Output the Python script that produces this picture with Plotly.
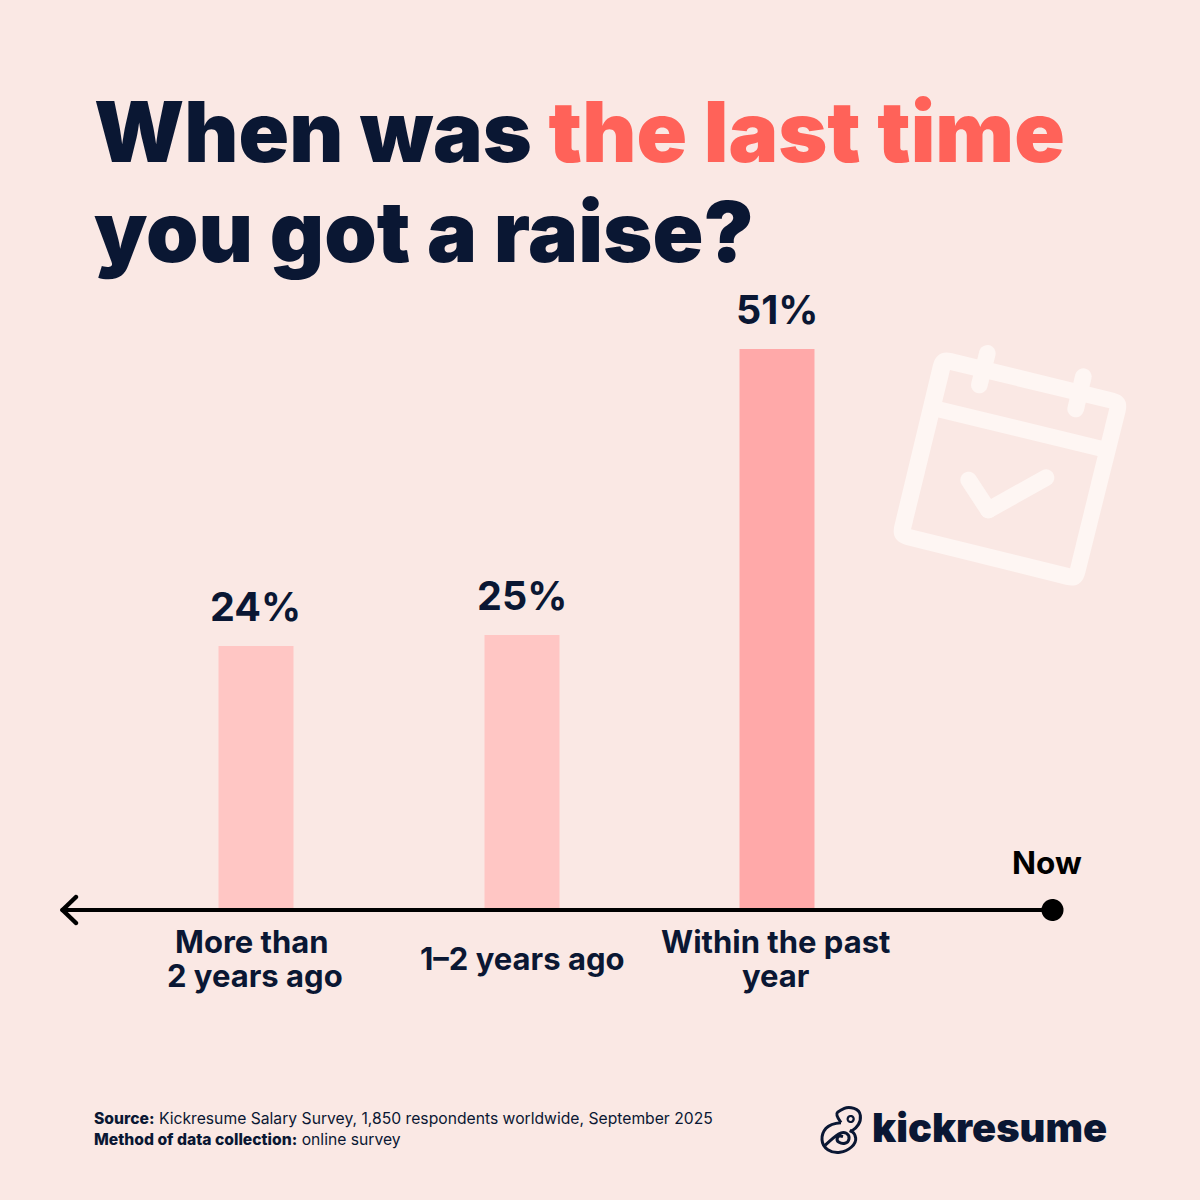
import numpy as np
import plotly.graph_objects as go

categories = ["More than 2 years ago", "1–2 years ago", "Within the past year"]
shares = [24, 25, 51]
value_labels = ["24%", "25%", "51%"]
category_lines = [["More than", "2 years ago"], ["1–2 years ago"], ["Within the past", "year"]]
title_lines = [
    'When was <span style="color:#FF6259">the last time</span>',
    "you got a raise?",
]
source_lines = [
    '<span style="font-weight:800">Source:</span> Kickresume Salary Survey, 1,850 respondents worldwide, September 2025',
    '<span style="font-weight:800">Method of data collection:</span> online survey',
]

# layout, in page pixels
SIZE = 1200
BASE_Y = 910
PX_PER_POINT = 11
bar_centers = [256, 522, 777]
label_centers = [255, 522, 776.5]
text_centers = [[252, 255], [522], [776, 776]]
bar_colors = ["#FFC6C4", "#FFC6C4", "#FFA9A9"]

BG = "#FAE8E4"
NAVY = "#0A1733"
ICON = "#FEF6F3"
FONT = "Inter"


def px(x, y):
    return x / SIZE, 1 - y / SIZE


def poly(points):
    pts = [px(x, y) for x, y in points]
    return "M" + " L".join(f"{x:.5f},{y:.5f}" for x, y in pts) + " Z"


def stadium(x0, y0, x1, y1, w):
    # rounded stroke as a filled outline, plotly shapes have no line caps
    a = np.arctan2(y1 - y0, x1 - x0)
    pts = []
    for t in np.linspace(a + np.pi / 2, a + 3 * np.pi / 2, 12):
        pts.append((x0 + w / 2 * np.cos(t), y0 + w / 2 * np.sin(t)))
    for t in np.linspace(a - np.pi / 2, a + np.pi / 2, 12):
        pts.append((x1 + w / 2 * np.cos(t), y1 + w / 2 * np.sin(t)))
    return poly(pts)


def rounded(corners, r):
    n = len(corners)
    parts = []
    for i in range(n):
        c = np.array(corners[i], float)
        p = np.array(corners[i - 1], float)
        q = np.array(corners[(i + 1) % n], float)
        a = c + (p - c) / np.linalg.norm(p - c) * r
        b = c + (q - c) / np.linalg.norm(q - c) * r
        ax, ay = px(*a)
        bx, by = px(*b)
        cx, cy = px(*c)
        parts.append(f"{'M' if i == 0 else 'L'}{ax:.5f},{ay:.5f} Q{cx:.5f},{cy:.5f} {bx:.5f},{by:.5f}")
    return " ".join(parts) + " Z"


def smooth(points):
    # open curve through the midpoints of the given points
    pts = [px(*p) for p in points]
    path = f"M{pts[0][0]:.5f},{pts[0][1]:.5f}"
    for i in range(1, len(pts) - 1):
        mx = (pts[i][0] + pts[i + 1][0]) / 2
        my = (pts[i][1] + pts[i + 1][1]) / 2
        path += f" Q{pts[i][0]:.5f},{pts[i][1]:.5f} {mx:.5f},{my:.5f}"
    path += f" L{pts[-1][0]:.5f},{pts[-1][1]:.5f}"
    return path


def shape(path, color, layer="above"):
    return dict(type="path", xref="paper", yref="paper", path=path, fillcolor=color,
                line=dict(width=0), layer=layer)


def outline(path, color, width):
    return dict(type="path", xref="paper", yref="paper", path=path,
                line=dict(color=color, width=width), layer="above")


def zoomed(x, y):
    return 880 + x / 3, 330 + y / 3


def calendar():
    outer = [zoomed(170, 58), zoomed(748, 200), zoomed(604, 776), zoomed(32, 633)]
    inner = [zoomed(210, 120), zoomed(688, 235), zoomed(570, 715), zoomed(93, 598)]
    out = [shape(rounded(outer, 16), ICON, "below"), shape(poly(inner), BG, "below")]
    for a, b, w in [((181, 239), (658, 355), 48 / 3), ((322, 70), (298, 165), 50 / 3),
                    ((610, 140), (587, 237), 50 / 3), ((266, 450), (325, 540), 50 / 3),
                    ((325, 540), (498, 443), 50 / 3)]:
        out.append(shape(stadium(*zoomed(*a), *zoomed(*b), w), ICON, "below"))
    return out


def circle(cx, cy, r):
    t = np.linspace(0, 2 * np.pi, 40)[:-1]
    return poly(list(zip(cx + r * np.cos(t), cy + r * np.sin(t))))


def logo_pt(x, y):
    return 815 + x / 3, 1100 + y / 3


def logo():
    head = [(78, 68), (60, 43), (76, 30), (100, 20), (134, 30), (138, 62), (122, 86), (106, 94)]
    body = [(78, 68), (46, 70), (20, 100), (22, 138), (55, 160), (95, 154), (124, 128), (120, 100), (104, 92)]
    spiral = [(30, 136), (58, 110), (84, 94), (104, 106), (100, 128), (80, 132), (64, 122), (70, 106), (84, 110)]
    out = []
    for pts in (head, body, spiral):
        out.append(outline(smooth([logo_pt(*p) for p in pts]), NAVY, 3))
    out.append(outline(circle(*logo_pt(107, 57), 3), NAVY, 2.2))
    return out


def arrow():
    out = [shape(stadium(64, BASE_Y, 1052, BASE_Y, 4), "#000000")]
    out.append(shape(stadium(62.5, BASE_Y, 76, 897, 4.5), "#000000"))
    out.append(shape(stadium(62.5, BASE_Y, 76, 923, 4.5), "#000000"))
    out.append(shape(circle(1052.5, BASE_Y, 11), "#000000"))
    return out


def text(x, y, s, size, weight=400, color=NAVY, anchor="center"):
    fx, fy = px(x, y)
    return dict(xref="paper", yref="paper", x=fx, y=fy, text=s, showarrow=False,
                xanchor=anchor, yanchor="middle", align=anchor,
                font=dict(family=FONT, size=size, weight=weight, color=color))


annotations = []
for line, y, size in zip(title_lines, [132, 231], [83.5, 84]):
    annotations.append(text(92, y, line, size, 900, anchor="left"))
for cx, lab, val in zip(label_centers, value_labels, shares):
    fx, _ = px(cx, 0)
    annotations.append(dict(xref="paper", yref="y", x=fx, y=val, yshift=39, text=lab, showarrow=False,
                            xanchor="center", yanchor="middle",
                            font=dict(family=FONT, size=39.5, weight=700, color=NAVY)))
for centers, lines in zip(text_centers, category_lines):
    ys = [941, 975] if len(lines) == 2 else [958]
    for cx, line, y in zip(centers, lines, ys):
        annotations.append(text(cx, y, line, 31, 700))
annotations.append(text(1047, 862.5, "Now", 31.5, 700, color="#000000"))
for line, y in zip(source_lines, [1118, 1139]):
    annotations.append(text(92, y, line, 15.7, 400, anchor="left"))
annotations.append(text(870, 1127, "kickresume", 39.8, 900, anchor="left"))

fig = go.Figure(go.Bar(x=bar_centers, y=shares, width=75, marker=dict(color=bar_colors, line=dict(width=0))))
fig.update_layout(
    width=SIZE, height=SIZE,
    margin=dict(l=0, r=0, t=0, b=0),
    paper_bgcolor=BG, plot_bgcolor=BG,
    showlegend=False,
    shapes=calendar() + arrow() + logo(),
    annotations=annotations,
)
fig.update_xaxes(range=[0, SIZE], visible=False, fixedrange=True)
fig.update_yaxes(range=[(BASE_Y - SIZE) / PX_PER_POINT, BASE_Y / PX_PER_POINT], visible=False, fixedrange=True)

fig.write_html("out.html", post_script="document.body.style.margin='0';", config={"displayModeBar": False})
